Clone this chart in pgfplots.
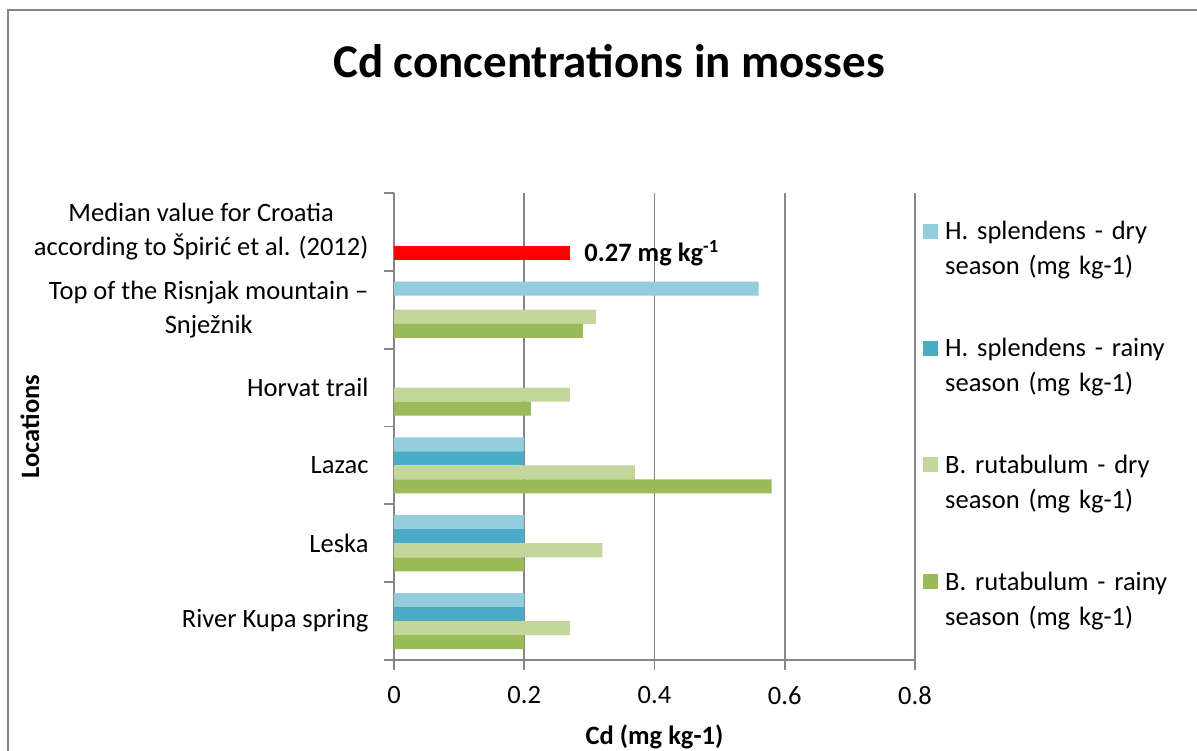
\documentclass[border=0pt]{standalone}
\usepackage{pgfplots}
\pgfplotsset{compat=1.18}
\usepackage{fontspec}
\setmainfont{Carlito}
\definecolor{hdry}{HTML}{93CDDD}
\definecolor{hrainy}{HTML}{4BACC6}
\definecolor{bdry}{HTML}{C3D69B}
\definecolor{brainy}{HTML}{9BBB59}
\definecolor{gridgray}{HTML}{868686}
\newcommand{\bodyfont}{\fontsize{26.5}{34}\selectfont}
\newcommand{\legfont}{\fontsize{26.5}{35}\selectfont}
\begin{document}
\begin{tikzpicture}[x=1pt,y=1pt]
\path[use as bounding box] (0,0) rectangle (1197,751);
\draw[gridgray, line width=1.5pt] (8,-5) -- (8,741) -- (1205,741);
\node[anchor=base, font=\fontsize{47}{56}\selectfont\bfseries] at (609,673) {Cd concentrations in mosses};
\begin{axis}[
  at={(394pt,91pt)}, anchor=south west,
  scale only axis, width=521pt, height=467pt,
  xbar, bar width=0.18,
  xmin=0, xmax=0.8, ymin=-0.5, ymax=5.5,
  xtick={0,0.2,0.4,0.6,0.8},
  ytick={-0.5,0.5,1.5,2.5,3.5,4.5,5.5},
  y tick label as interval,
  yticklabels={River Kupa spring, Leska, Lazac, Horvat trail, {Top of the Risnjak mountain –\\Snježnik}, {Median value for Croatia\\according to Špirić et al. (2012)}},
  yticklabel style={align=center, font=\bodyfont, xshift=-12pt},
  xticklabel style={font=\bodyfont, yshift=-13pt},
  /pgf/number format/assume math mode=true,
  axis x line*=bottom, axis y line*=left,
  axis line style={gridgray, line width=1.8pt},
  tick style={gridgray, line width=1.8pt},
  tick align=outside, major tick length=10pt,
  xmajorgrids, grid style={gridgray, line width=1.8pt},
  xlabel={\textbf{Cd (mg kg-1)}},
  ylabel={\textbf{Locations}},
  every axis x label/.style={at={(axis description cs:0.5,0)}, anchor=center, yshift=-77pt, font=\bodyfont},
  every axis y label/.style={at={(axis description cs:0,0.5)}, xshift=-364pt, rotate=90, anchor=center, font=\bodyfont},
  legend style={at={(rel axis cs:1,1)}, anchor=north west, xshift=8pt, yshift=-28pt,
    draw=none, fill=none, inner sep=0pt, row sep=97pt, column sep=7pt,
    nodes={inner sep=0pt, text width=245pt, align=left, font=\legfont}},
  legend cell align=left,
  legend image code/.code={\fill[#1] (0pt,-7.5pt) rectangle (15pt,7.5pt);},
]
\addplot[fill=hdry, draw=none, bar shift=0.27] coordinates {(0.2,0) (0.2,1) (0.2,2) (0.56,4)};
\addplot[fill=hrainy, draw=none, bar shift=0.09] coordinates {(0.2,0) (0.2,1) (0.2,2)};
\addplot[fill=bdry, draw=none, bar shift=-0.09] coordinates {(0.27,0) (0.32,1) (0.37,2) (0.27,3) (0.31,4)};
\addplot[fill=brainy, draw=none, bar shift=-0.27] coordinates {(0.2,0) (0.2,1) (0.58,2) (0.21,3) (0.29,4)};
\addplot[fill=red, draw=none, bar shift=-0.27, forget plot,
  nodes near coords={\textbf{0.27 mg kg\textsuperscript{-1}}},
  every node near coord/.style={font=\bodyfont, black, anchor=west, xshift=11pt, yshift=-21pt}] coordinates {(0.27,5)};
\legend{{H. splendens - dry\\season (mg kg-1)}, {H. splendens - rainy\\season (mg kg-1)}, {B. rutabulum - dry\\season (mg kg-1)}, {B. rutabulum - rainy\\season (mg kg-1)}}
\end{axis}
\end{tikzpicture}
\end{document}
